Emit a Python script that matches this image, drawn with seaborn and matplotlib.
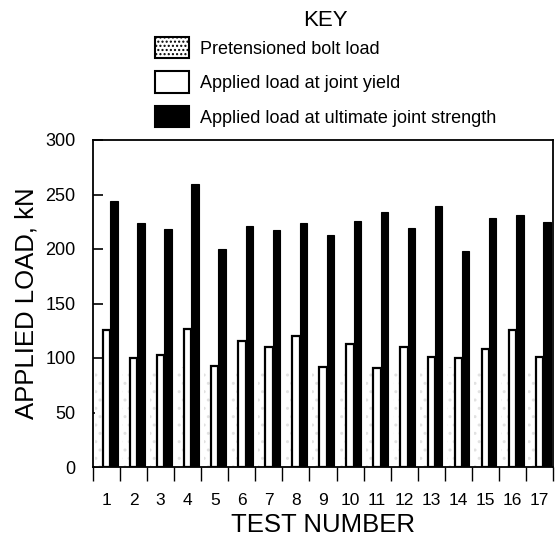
import matplotlib
matplotlib.use("Agg")
import matplotlib.pyplot as plt
import seaborn as sns
import pandas as pd
from matplotlib.patches import Patch

# values (kN)
tests = [str(i) for i in range(1, 18)]
pretension = [90, 88, 90, 92, 88, 90, 89, 90, 88, 90, 89, 90, 91, 92, 90, 91, 90]
joint_yield = [126, 100, 103, 127, 93, 116, 110, 120, 92, 113, 91, 110, 101, 100, 108, 126, 101]
ultimate = [244, 224, 218, 260, 200, 221, 217, 224, 213, 226, 234, 219, 239, 198, 228, 231, 225]
series = ["Pretensioned bolt load", "Applied load at joint yield",
          "Applied load at ultimate joint strength"]

df = pd.DataFrame({
    "test": tests * 3,
    "load": pretension + joint_yield + ultimate,
    "series": [series[0]] * 17 + [series[1]] * 17 + [series[2]] * 17,
})

sns.set_style("ticks")
plt.rcParams["font.family"] = ["Liberation Sans", "DejaVu Sans"]
plt.rcParams["text.color"] = "black"
plt.rcParams["axes.labelcolor"] = "black"
plt.rcParams["xtick.color"] = "black"
plt.rcParams["ytick.color"] = "black"

W, H = 560, 538
fig = plt.figure(figsize=(W / 100, H / 100), dpi=100)
ax = fig.add_axes([93 / W, 1 - 467 / H, 460 / W, 327 / H])

palette = {series[0]: "white", series[1]: "white", series[2]: "black"}
sns.barplot(data=df, x="test", y="load", hue="series", palette=palette,
            width=0.82, gap=0, ax=ax, legend=False, saturation=1)

plt.rcParams["hatch.color"] = "#cfcfcf"
for i, bar in enumerate(ax.patches[:51]):
    grp = i // 17
    if grp == 0:
        bar.set_hatch("..")
        bar.set_edgecolor("#e2e2e2")
        bar.set_linewidth(0)
    elif grp == 1:
        bar.set_edgecolor("black")
        bar.set_linewidth(1.6)
    else:
        bar.set_edgecolor("black")
        bar.set_linewidth(0.8)

ax.set_xlim(-0.5, 16.5)
ax.set_ylim(0, 300)
ax.set_yticks(range(0, 301, 50))
ax.tick_params(axis="y", direction="in", length=7, width=1.2, labelsize=13, pad=12.5)
ax.set_xticks(range(17))
ax.set_xticklabels(tests)
ax.tick_params(axis="x", which="major", length=0, labelsize=12.5, pad=19)
ax.set_xticks([i - 0.5 for i in range(18)], minor=True)
ax.tick_params(axis="x", which="minor", direction="out", length=10, width=1)
for s in ax.spines.values():
    s.set_linewidth(1.3)
    s.set_color("black")

ax.set_xlabel("TEST NUMBER", fontsize=18.5, labelpad=3)
ax.set_ylabel("APPLIED LOAD, kN", fontsize=18.5, labelpad=5)

# key
fig.text(325 / W, 1 - 21 / H, "KEY", fontsize=16, ha="center", va="center")
handles = [
    Patch(facecolor="white", edgecolor="black", hatch="....", linewidth=1.5),
    Patch(facecolor="white", edgecolor="black", linewidth=1.5),
    Patch(facecolor="black", edgecolor="black", linewidth=1.5),
]
leg = fig.legend(handles, series, loc="upper left",
                 bbox_to_anchor=(146 / W, 1 - 28 / H), frameon=False,
                 fontsize=13, handlelength=1.9, handleheight=1.45,
                 labelspacing=0.72, handletextpad=0.6, borderpad=0)

fig.savefig("out.png", dpi=100)
